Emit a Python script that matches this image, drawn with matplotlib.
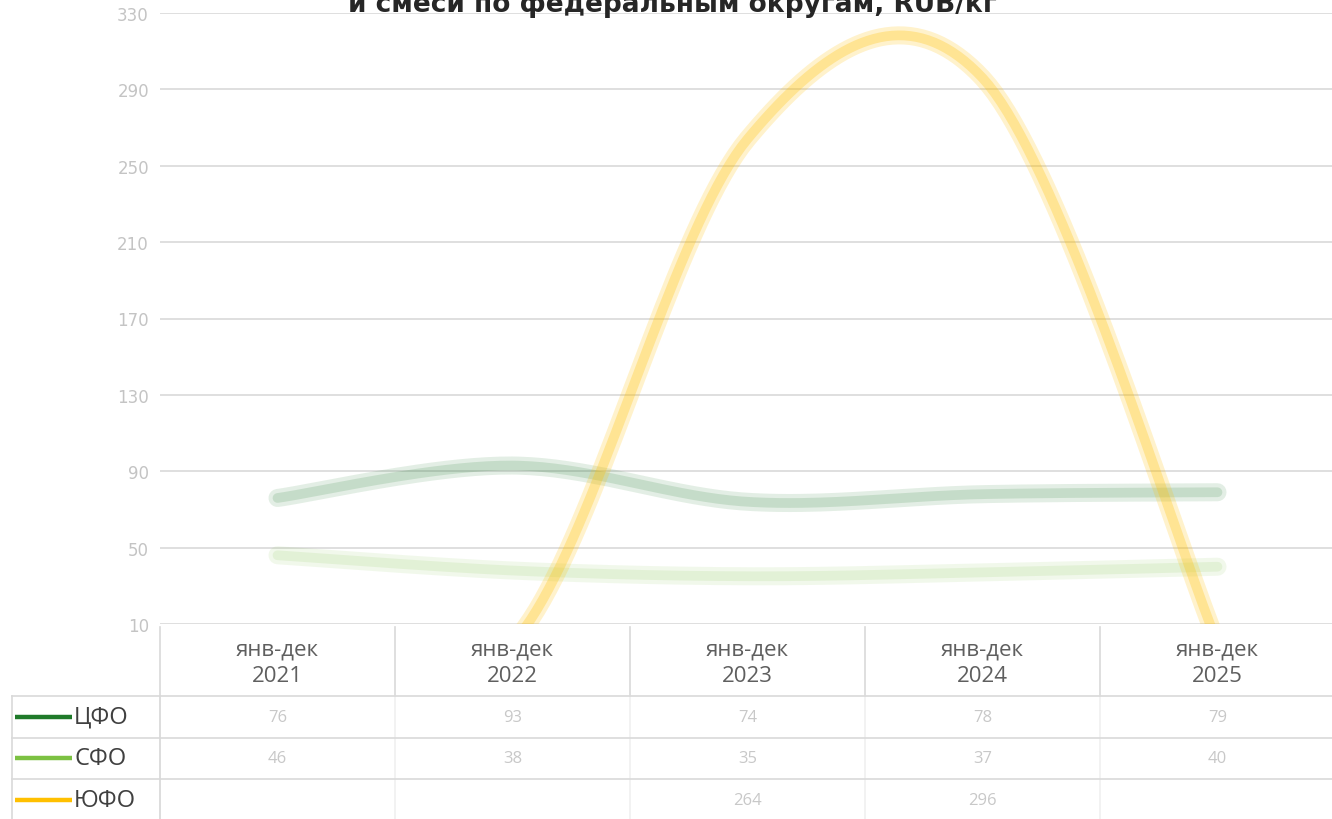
import matplotlib
matplotlib.use("Agg")
import matplotlib.pyplot as plt
import numpy as np
from matplotlib.transforms import blended_transform_factory

W, H, DPI = 1332, 820, 100

TITLE = "и смеси по федеральным округам, RUB/кг"
PERIODS = ["янв-дек\n2021", "янв-дек\n2022", "янв-дек\n2023", "янв-дек\n2024", "янв-дек\n2025"]
REGIONS = ["ЦФО", "СФО", "ЮФО"]
COLORS = ["#1f7a2a", "#7cc142", "#ffc000"]
CFO = [76, 93, 74, 78, 79]
SFO = [46, 38, 35, 37, 40]
YUFO = [0, 0, 264, 296, 0]   # 0 = no data (blank in the table)
Y_TICKS = [10, 50, 90, 130, 170, 210, 250, 290, 330]

# soft look of the lines: (outer alpha, inner alpha)
ALPHAS = [(0.12, 0.15), (0.10, 0.12), (0.20, 0.28)]


def smooth(xs, ys, n=40):
    """Excel-like smoothed line (Catmull-Rom) through the points."""
    xs = np.asarray(xs, float)
    ys = np.asarray(ys, float)
    px = np.r_[xs[0], xs, xs[-1]]
    py = np.r_[ys[0], ys, ys[-1]]
    t = np.linspace(0, 1, n)
    h00 = 2 * t**3 - 3 * t**2 + 1
    h10 = t**3 - 2 * t**2 + t
    h01 = -2 * t**3 + 3 * t**2
    h11 = t**3 - t**2
    ox, oy = [], []
    for i in range(1, len(px) - 2):
        for p, o in ((px, ox), (py, oy)):
            m1 = (p[i + 1] - p[i - 1]) / 2
            m2 = (p[i + 2] - p[i]) / 2
            o.append(h00 * p[i] + h10 * m1 + h01 * p[i + 1] + h11 * m2)
    return np.concatenate(ox), np.concatenate(oy)


fig = plt.figure(figsize=(W / DPI, H / DPI), dpi=DPI)
fig.patch.set_facecolor("white")

# plot area in pixels: x 160..1335, y 14..625
ax = fig.add_axes([160 / W, (H - 625) / H, (1335 - 160) / W, (625 - 14) / H], zorder=2)
ax.patch.set_alpha(0)
ax.set_xlim(-0.5, 4.5)
ax.set_ylim(Y_TICKS[0], Y_TICKS[-1])
ax.set_yticks(Y_TICKS)
ax.set_xticks([])
ax.grid(axis="y", color="#d9d9d9", lw=1.2)
ax.set_axisbelow(True)
for s in ax.spines.values():
    s.set_visible(False)
ax.tick_params(axis="y", length=0, pad=8, labelcolor="#c4c4c4", labelsize=12)

x = np.arange(len(PERIODS))
for vals, c, (a_out, a_in) in zip([CFO, SFO, YUFO], COLORS, ALPHAS):
    sx, sy = smooth(x, vals)
    ax.plot(sx, sy, color=c, lw=13, alpha=a_out, solid_capstyle="round")
    ax.plot(sx, sy, color=c, lw=7, alpha=a_in, solid_capstyle="round")

fig.text(672 / W, 1 - 12 / H, TITLE, ha="center", va="baseline",
         fontsize=19, fontweight="bold", color="#262626")

# data table under the chart, drawn in pixel rows
tab = fig.add_axes([0, 0, 1, 1], zorder=1)
tab.set_xlim(0, W)
tab.set_ylim(H, 0)
tab.axis("off")
tr = blended_transform_factory(ax.transData, tab.transData)

HEAD_TOP, HEAD_BOT, ROW_H = 628, 697, 41.5
LEG_X0 = 12
GRID = "#d9d9d9"
FONT = ["Open Sans", "DejaVu Sans"]

for b in np.arange(-0.5, len(PERIODS), 1.0):
    tab.plot([b, b], [HEAD_TOP, HEAD_BOT], color=GRID, lw=1.2, transform=tr)
    tab.plot([b, b], [HEAD_BOT, H], color="#f0f0f0", lw=1.2, transform=tr)
tab.plot([160, 160], [HEAD_BOT, H], color=GRID, lw=1.2)
tab.plot([LEG_X0, LEG_X0], [HEAD_BOT, H], color=GRID, lw=1.2)
for k in range(len(REGIONS)):
    yy = HEAD_BOT + k * ROW_H
    tab.plot([LEG_X0, W], [yy, yy], color=GRID, lw=1.2)

for i, lab in enumerate(PERIODS):
    tab.text(i, (HEAD_TOP + HEAD_BOT) / 2 + 1, lab, transform=tr, ha="center", va="center",
             fontsize=16, color="#5f5f5f", linespacing=1.35, family=FONT)

for k, (name, vals, c) in enumerate(zip(REGIONS, [CFO, SFO, YUFO], COLORS)):
    yc = HEAD_BOT + (k + 0.5) * ROW_H
    tab.plot([LEG_X0 + 3, 72], [yc, yc], color=c, lw=3.2, solid_capstyle="butt")
    tab.text(74, yc, name, ha="left", va="center", fontsize=17,
             color="#404040", family=FONT)
    for i, v in enumerate(vals):
        if v != 0:
            tab.text(i, yc, f"{v:.0f}", transform=tr, ha="center", va="center",
                     fontsize=12, color="#c8c8c8", family=FONT)

fig.savefig("out.png", dpi=DPI, facecolor="white")
